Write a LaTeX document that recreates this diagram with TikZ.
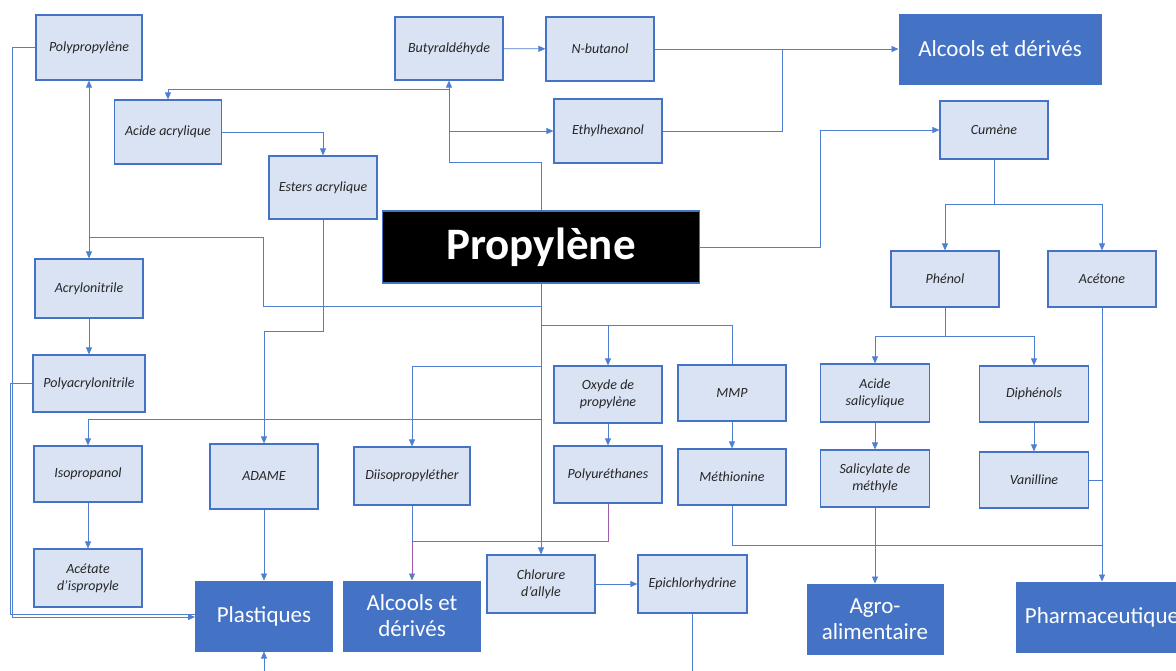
\documentclass[tikz,border=0pt]{standalone}
\usepackage{fontspec}
\setmainfont{Carlito}
\usetikzlibrary{arrows.meta}
\definecolor{lightfill}{HTML}{DAE3F3}
\definecolor{boxborder}{HTML}{4472C4}
\definecolor{bigfill}{HTML}{4472C4}
\definecolor{linecol}{HTML}{4F7FD0}
\definecolor{purp}{HTML}{A05DB0}
\tikzset{
  sbox/.style={draw=boxborder, fill=lightfill, line width=1.2pt, inner sep=0pt, align=center,
    font=\itshape\fontsize{14}{17}\selectfont, text=black!85},
  bbox/.style={draw=boxborder, fill=bigfill, line width=1pt, inner sep=0pt, align=center,
    font=\fontsize{23}{26}\selectfont, text=white},
  pbox/.style={draw=boxborder, fill=black, line width=1.2pt, inner sep=0pt, align=center,
    font=\bfseries\fontsize{45}{50}\selectfont, text=white},
  conn/.style={draw=linecol, line width=0.8pt},
  arr/.style={conn, -{Triangle[length=7pt,width=6pt]}},
  purline/.style={draw=purp, line width=0.8pt},
}
\newcommand{\smbox}[6]{\node[sbox, minimum width=#4pt, minimum height=#5pt] (#1) at (#2,#3) {#6};}
\begin{document}
\begin{tikzpicture}[x=1pt,y=-1pt]
\clip (0,0) rectangle (1176,670);
\fill[white] (0,0) rectangle (1176,670);
% small boxes
\smbox{pp}{89}{47.5}{106}{65}{Polypropylène}
\smbox{bu}{449}{48.5}{108}{63}{Butyraldéhyde}
\smbox{nb}{600}{49}{108}{64}{N-butanol}
\smbox{eh}{608}{131}{108}{64}{Ethylhexanol}
\smbox{cu}{994}{130}{108}{58}{Cumène}
\smbox{aa}{168}{132}{107}{64}{Acide acrylique}
\smbox{ea}{323}{187.5}{108}{63}{Esters acrylique}
\smbox{an}{89}{288.5}{108}{59}{Acrylonitrile}
\smbox{pan}{89}{383.5}{112}{57}{Polyacrylonitrile}
\smbox{ph}{945}{279}{108}{56}{Phénol}
\smbox{ac}{1102}{279}{108}{56}{Acétone}
\smbox{ox}{608}{394.5}{108}{57}{Oxyde de\\propylène}
\smbox{mmp}{732}{393}{108}{56}{MMP}
\smbox{as}{875}{393}{109}{58}{Acide\\salicylique}
\smbox{di}{1034}{394}{109}{56}{Diphénols}
\smbox{iso}{88}{474}{108}{56}{Isopropanol}
\smbox{adame}{264}{476.5}{108}{65}{ADAME}
\smbox{dip}{412}{476}{116}{58}{Diisopropyléther}
\smbox{pu}{608}{474.5}{108}{57}{Polyuréthanes}
\smbox{me}{732}{477}{108}{56}{Méthionine}
\smbox{sm}{875}{478.5}{109}{57}{Salicylate de\\méthyle}
\smbox{va}{1034}{480}{109}{56}{Vanilline}
\smbox{aci}{88}{578}{108}{58}{Acétate\\d’ispropyle}
\smbox{ch}{541}{584}{108}{58}{Chlorure\\d’allyle}
\smbox{ep}{692.5}{584}{109}{58}{Epichlorhydrine}
% big boxes
\node[bbox, minimum width=202pt, minimum height=70pt] (alc1) at (1000,49) {Alcools et dérivés};
\node[bbox, minimum width=137pt, minimum height=70pt] (pl) at (264,616) {Plastiques};
\node[bbox, minimum width=137pt, minimum height=70pt] (alc2) at (412,616) {Alcools et\\dérivés};
\node[bbox, minimum width=136pt, minimum height=70pt] (ag) at (875,619) {Agro-\\alimentaire};
\node[bbox, minimum width=172pt, minimum height=70pt] (ph2) at (1102,617) {Pharmaceutique};
\node[pbox, minimum width=317pt, minimum height=72pt] (prop) at (541,247) {Propylène};
% junction coordinates
\coordinate (t306) at (541,306);
\coordinate (t325) at (541,325);
\coordinate (t366) at (541,366);
\coordinate (t419) at (541,419);
\coordinate (k237) at (89,237);
\coordinate (u162) at (449,162);
\coordinate (u131) at (449,131);
\coordinate (u89) at (449,89);
\coordinate (c204) at (994,204);
\coordinate (p336) at (945,336);
\coordinate (m545) at (1102,545);
\coordinate (d541) at (412,541);
\coordinate (pbot) at (264,690);
\coordinate (ebot) at (692.5,690);
% left side to Plastiques
\draw[arr] (pp.west) -- ++(-23,0) |- ([yshift=-1pt]pl.west);
\draw[conn] (pan.west) -- ++(-22,0) |- ([yshift=2pt]pl.west);
% trunk
\draw[arr] (prop.south) -- (ch.north);
\draw[conn] (t306) -- (263,306) -- (263,237) -- (k237);
\draw[arr] (k237) -- (pp.south);
\draw[arr] (k237) -- (an.north);
\draw[arr] (an) -- (pan);
\draw[conn] (t325) -| (mmp.north);
\draw[arr] (608,325) -- (ox.north);
\draw[arr] (t366) -| (dip.north);
\draw[arr] (t419) -| (iso.north);
\draw[arr] (ox) -- (pu);
\draw[arr] (mmp) -- (me);
\draw[arr] (iso) -- (aci);
\draw[arr] (adame) -- (pl);
\draw[arr] (pbot) -- (pl.south);
\draw[conn] (ep.south) -- (ebot);
\draw[arr] (ch) -- (ep);
% Diisopropylether / polyurethanes
\draw[arr] (dip) -- (alc2);
\draw[purline] (pu.south) |- (d541);
\draw[purline] (d541) -- (412,576);
% top
\draw[conn] (prop.north) |- (u162);
\draw[arr] (u162) -- (bu.south);
\draw[arr] (u131) -- (eh.west);
\draw[arr] (u89) -| (aa.north);
\draw[arr] (bu) -- (nb);
\draw[arr] (nb) -- (alc1);
\draw[conn] (eh.east) -- (782,131) -- (782,49);
\draw[arr] (aa.east) -| (ea.north);
\draw[arr] (ea.south) -- (323,331) -| (adame.north);
% right
\draw[arr] (prop.east) -- (820,247) |- (cu.west);
\draw[conn] (cu.south) -- (c204);
\draw[arr] (c204) -| (ph.north);
\draw[arr] (c204) -| (ac.north);
\draw[conn] (ph.south) -- (p336);
\draw[arr] (p336) -| (as.north);
\draw[arr] (p336) -| (di.north);
\draw[arr] (as) -- (sm);
\draw[arr] (di) -- (va);
\draw[arr] (sm) -- (ag);
\draw[arr] (ac) -- (ph2);
\draw[conn] (va.east) -- (va.east -| ac.south);
\draw[conn] (me.south) |- (m545);
\end{tikzpicture}
\end{document}
